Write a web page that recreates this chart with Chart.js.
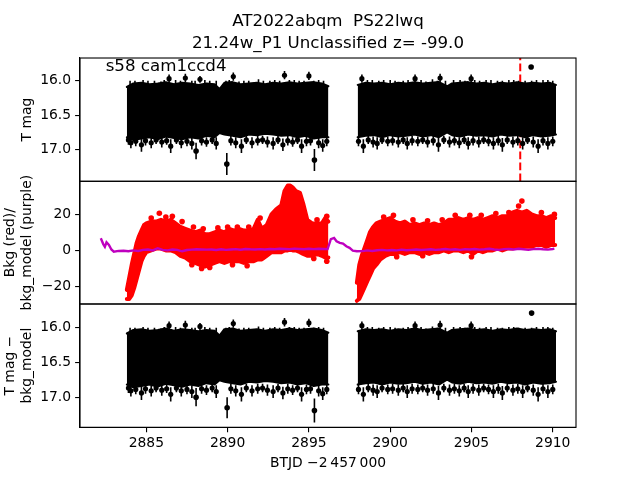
<!DOCTYPE html>
<html><head><meta charset="utf-8">
<script src="https://cdn.jsdelivr.net/npm/chart.js@4/dist/chart.umd.min.js"></script>
<style>
html,body{margin:0;padding:0;background:#fff;width:640px;height:480px;overflow:hidden}
canvas{position:absolute;left:0;top:0}
</style></head><body>
<canvas id="c1" width="640" height="480"></canvas>
<canvas id="c2" width="640" height="480"></canvas>
<canvas id="c3" width="640" height="480"></canvas>
<script>
// ---------- data ----------
const xTicks = [2885, 2890, 2895, 2900, 2905, 2910];
const magTicks = [16.0, 16.5, 17.0];
const bkgTicks = [-20, 0, 20];
const markTime = 2908.0;
const titleLines = ['AT2022abqm  PS22lwq', '21.24w_P1 Unclassified z= -99.0'];
const sectorLabel = 's58 cam1ccd4';

// dense light-curve band (envelope of the black error-bar cloud)
const bandTime1 = [2883.8, 2884.2, 2884.7, 2885.2, 2885.7, 2886.2, 2886.7, 2887.2, 2887.7, 2888.2, 2888.7, 2889.2, 2889.5, 2889.8, 2890.3, 2890.8, 2891.3, 2891.8, 2892.3, 2892.8, 2893.3, 2893.8, 2894.3, 2894.8, 2895.3, 2895.8, 2896.2];
const bandTime2 = [2898.0, 2898.5, 2899.0, 2899.5, 2900.0, 2900.5, 2901.0, 2901.5, 2902.0, 2902.5, 2903.0, 2903.5, 2903.8, 2904.3, 2904.8, 2905.3, 2905.8, 2906.3, 2906.8, 2907.3, 2907.8, 2908.3, 2908.8, 2909.3, 2909.8, 2910.2];
const magBright1 = [16.09, 16.04, 16.03, 16.05, 16.04, 16.02, 16.05, 16.03, 16.04, 16.06, 16.04, 16.05, 16.12, 16.03, 16.02, 16.05, 16.04, 16.03, 16.05, 16.03, 16.04, 16.02, 16.04, 16.03, 16.02, 16.04, 16.08];
const magFaint1  = [16.82, 16.86, 16.84, 16.82, 16.85, 16.81, 16.83, 16.85, 16.82, 16.84, 16.80, 16.82, 16.76, 16.78, 16.80, 16.82, 16.78, 16.79, 16.77, 16.78, 16.80, 16.79, 16.82, 16.80, 16.84, 16.82, 16.82];
const magBright2 = [16.06, 16.03, 16.04, 16.03, 16.05, 16.03, 16.04, 16.02, 16.04, 16.03, 16.02, 16.08, 16.04, 16.03, 16.02, 16.04, 16.03, 16.05, 16.03, 16.04, 16.02, 16.04, 16.03, 16.04, 16.03, 16.06];
const magFaint2  = [16.82, 16.80, 16.79, 16.82, 16.79, 16.81, 16.80, 16.78, 16.81, 16.79, 16.82, 16.75, 16.79, 16.81, 16.78, 16.80, 16.79, 16.81, 16.78, 16.80, 16.79, 16.82, 16.79, 16.81, 16.80, 16.78];
const corBright1 = [16.08, 16.03, 16.02, 16.04, 16.03, 16.01, 16.04, 16.02, 16.03, 16.05, 16.03, 16.04, 16.11, 16.02, 16.01, 16.04, 16.03, 16.02, 16.04, 16.02, 16.03, 16.01, 16.03, 16.02, 16.01, 16.03, 16.07];
const corFaint1  = [16.81, 16.85, 16.83, 16.81, 16.84, 16.80, 16.82, 16.84, 16.81, 16.83, 16.79, 16.81, 16.75, 16.77, 16.79, 16.81, 16.77, 16.78, 16.76, 16.77, 16.79, 16.78, 16.81, 16.79, 16.83, 16.81, 16.81];
const corBright2 = [16.05, 16.02, 16.03, 16.02, 16.04, 16.02, 16.03, 16.01, 16.03, 16.02, 16.01, 16.07, 16.03, 16.02, 16.01, 16.03, 16.02, 16.04, 16.02, 16.03, 16.01, 16.03, 16.02, 16.03, 16.02, 16.05];
const corFaint2  = [16.81, 16.79, 16.78, 16.81, 16.78, 16.80, 16.79, 16.77, 16.80, 16.78, 16.81, 16.74, 16.78, 16.80, 16.77, 16.79, 16.78, 16.80, 16.77, 16.79, 16.78, 16.81, 16.78, 16.80, 16.79, 16.77];

// points (with error bars) sticking out of the band edges (same in both mag panels)
const edgeTime = [2883.90, 2884.05, 2884.35, 2884.70, 2884.95, 2885.30, 2885.60, 2885.95, 2886.25, 2886.50, 2886.85, 2887.15, 2887.50, 2887.80, 2888.40, 2888.70, 2889.05, 2889.30, 2890.20, 2890.50, 2890.85, 2891.15, 2891.50, 2891.85, 2892.15, 2892.45, 2892.80, 2893.10, 2893.40, 2893.70, 2894.00, 2894.30, 2894.55, 2894.85, 2895.10, 2895.60, 2895.85, 2896.10,
  2898.05, 2898.35, 2898.65, 2898.95, 2899.20, 2899.50, 2899.85, 2900.15, 2900.50, 2900.80, 2901.05, 2901.35, 2901.70, 2902.00, 2902.30, 2902.65, 2902.97, 2903.30, 2903.65, 2903.95, 2904.25, 2904.55, 2904.80, 2905.10, 2905.45, 2905.75, 2906.05, 2906.35, 2906.65, 2906.90, 2907.20, 2907.55, 2907.85, 2908.15, 2908.45, 2908.80, 2909.10, 2909.40, 2909.70, 2910.00,
  2886.40, 2887.40, 2888.30, 2890.35, 2893.50, 2895.00, 2898.26, 2901.53, 2903.07, 2904.98];
const edgeVal = [16.86, 16.90, 16.88, 16.93, 16.87, 16.90, 16.86, 16.89, 16.87, 16.95, 16.86, 16.90, 16.88, 16.91, 16.87, 16.89, 16.86, 16.91, 16.87, 16.90, 16.95, 16.86, 16.90, 16.87, 16.86, 16.89, 16.91, 16.86, 16.93, 16.87, 16.89, 16.86, 16.95, 16.88, 16.87, 16.90, 16.94, 16.88,
  16.88, 16.95, 16.86, 16.89, 16.91, 16.86, 16.88, 16.87, 16.89, 16.86, 16.91, 16.87, 16.88, 16.86, 16.89, 16.87, 16.93, 16.86, 16.89, 16.87, 16.90, 16.86, 16.91, 16.87, 16.89, 16.86, 16.88, 16.91, 16.87, 16.93, 16.86, 16.89, 16.87, 16.91, 16.86, 16.89, 16.95, 16.87, 16.91, 16.88,
  15.97, 15.96, 15.98, 15.94, 15.92, 15.93, 15.97, 15.97, 15.96, 15.97];
const edgeErr = [0.07, 0.08, 0.07, 0.10, 0.07, 0.08, 0.06, 0.08, 0.06, 0.10, 0.06, 0.08, 0.07, 0.09, 0.07, 0.07, 0.06, 0.09, 0.07, 0.08, 0.10, 0.06, 0.08, 0.07, 0.06, 0.08, 0.09, 0.06, 0.09, 0.07, 0.07, 0.06, 0.10, 0.07, 0.07, 0.08, 0.09, 0.07,
  0.07, 0.10, 0.06, 0.08, 0.09, 0.06, 0.07, 0.07, 0.08, 0.06, 0.09, 0.07, 0.07, 0.06, 0.08, 0.07, 0.10, 0.06, 0.08, 0.07, 0.08, 0.06, 0.09, 0.07, 0.08, 0.06, 0.07, 0.09, 0.07, 0.10, 0.06, 0.08, 0.07, 0.09, 0.06, 0.08, 0.10, 0.07, 0.09, 0.07,
  0.06, 0.06, 0.05, 0.06, 0.06, 0.06, 0.06, 0.06, 0.06, 0.06];
// error-bar streaks on the bright edge whose markers sit inside the band
const streakTime = [2884.00, 2884.30, 2884.80, 2885.10, 2885.50, 2885.90, 2886.10, 2886.80, 2887.10, 2887.80, 2888.00, 2888.60, 2888.90, 2889.30, 2889.90, 2890.10, 2890.70, 2891.00, 2891.30, 2891.90, 2892.20, 2892.60, 2892.90, 2893.20, 2893.80, 2894.10, 2894.40, 2894.70, 2895.30, 2895.60, 2895.90,
  2898.60, 2898.90, 2899.30, 2899.60, 2900.00, 2900.30, 2900.80, 2901.10, 2901.90, 2902.20, 2902.60, 2902.90, 2903.40, 2903.90, 2904.30, 2904.60, 2905.20, 2905.50, 2905.90, 2906.20, 2906.60, 2906.90, 2907.30, 2907.60, 2907.90, 2908.30, 2908.70, 2909.00, 2909.40, 2909.70, 2910.00];
const streakVal = [16.06, 16.05, 16.06, 16.05, 16.06, 16.05, 16.05, 16.06, 16.05, 16.06, 16.05, 16.06, 16.05, 16.06, 16.05, 16.06, 16.05, 16.06, 16.05, 16.05, 16.06, 16.05, 16.06, 16.05, 16.05, 16.06, 16.05, 16.06, 16.05, 16.06, 16.05,
  16.05, 16.06, 16.05, 16.06, 16.05, 16.06, 16.05, 16.06, 16.05, 16.06, 16.05, 16.05, 16.06, 16.05, 16.06, 16.05, 16.06, 16.05, 16.05, 16.06, 16.05, 16.06, 16.05, 16.06, 16.05, 16.06, 16.05, 16.06, 16.05, 16.06, 16.05];
const streakErr = [0.06, 0.05, 0.07, 0.05, 0.06, 0.04, 0.06, 0.07, 0.05, 0.06, 0.05, 0.07, 0.05, 0.06, 0.05, 0.07, 0.04, 0.06, 0.05, 0.07, 0.06, 0.05, 0.07, 0.05, 0.06, 0.07, 0.05, 0.06, 0.05, 0.07, 0.05,
  0.06, 0.07, 0.05, 0.07, 0.06, 0.06, 0.05, 0.07, 0.06, 0.05, 0.07, 0.05, 0.06, 0.06, 0.07, 0.05, 0.07, 0.05, 0.06, 0.07, 0.05, 0.06, 0.06, 0.07, 0.05, 0.06, 0.05, 0.07, 0.06, 0.07, 0.05];

// isolated outliers
const magOutTime = [2888.06, 2889.95, 2895.34, 2908.67];
const magOutVal  = [17.02, 17.21, 17.15, 15.80];
const magOutErr  = [0.12, 0.16, 0.16, 0.02];
const corOutTime = [2888.06, 2889.97, 2895.34, 2908.70];
const corOutVal  = [16.99, 17.14, 17.18, 15.79];
const corOutErr  = [0.13, 0.15, 0.17, 0.02];

// background (red) envelope
const bkgTime1 = [2883.80, 2883.95, 2884.10, 2884.25, 2884.40, 2884.55, 2884.70, 2884.85, 2885.00, 2885.30, 2885.60, 2885.90, 2886.20, 2886.50, 2886.80, 2887.10, 2887.40, 2887.70, 2888.00, 2888.30, 2888.60, 2888.90, 2889.20, 2889.50, 2889.80, 2890.10, 2890.40, 2890.70, 2891.00, 2891.30, 2891.60, 2891.85, 2892.10, 2892.40, 2892.70, 2893.00, 2893.30, 2893.50, 2893.70, 2893.85, 2894.00, 2894.20, 2894.45, 2894.65, 2894.90, 2895.20, 2895.50, 2895.80, 2896.00, 2896.20];
const bkgLow1  = [-27, -27, -25, -21, -16, -11, -6, -3, -1, 0, 1, 1, 0, 0, -1, -3, -4, -6, -7, -8, -9, -8, -7, -6, -7, -6, -6, -6, -7, -6, -6, -5, -5, -3, -1, -1, -1, 0, 0, 1, 0, 0, -1, -2, -3, -3, -2, -3, -4, -4];
const bkgHigh1 = [-22, -15, -8, -2, 4, 8, 11, 14, 15, 16, 16, 17, 16, 17, 15, 13, 12, 11, 10, 11, 9, 9, 10, 11, 10, 12, 11, 12, 11, 11, 12, 17, 12, 14, 20, 23, 25, 33, 36, 36, 35, 33, 32, 26, 17, 15, 15, 15, 18, 16];
const bkgTime2 = [2897.95, 2898.10, 2898.25, 2898.45, 2898.60, 2898.75, 2898.95, 2899.15, 2899.40, 2899.70, 2900.00, 2900.30, 2900.60, 2900.90, 2901.20, 2901.50, 2901.80, 2902.10, 2902.40, 2902.70, 2903.00, 2903.30, 2903.60, 2903.90, 2904.20, 2904.50, 2904.80, 2905.10, 2905.40, 2905.70, 2906.00, 2906.30, 2906.60, 2906.90, 2907.20, 2907.50, 2907.80, 2908.10, 2908.40, 2908.70, 2909.00, 2909.30, 2909.60, 2909.90, 2910.15];
const bkgLow2  = [-28, -27, -24, -20, -17, -14, -10, -8, -5, -3, -2, -2, -1, -2, -1, -1, -2, -1, -2, -1, -1, 0, -1, 0, 0, -1, 0, -2, 0, -1, 0, 0, 1, 0, 1, 1, 2, 2, 2, 2, 3, 3, 2, 3, 3];
const bkgHigh2 = [-18, -8, -3, 2, 6, 10, 13, 15, 16, 17, 18, 16, 15, 16, 14, 15, 14, 15, 14, 15, 14, 15, 17, 17, 18, 17, 18, 17, 18, 17, 18, 19, 18, 19, 19, 21, 22, 21, 22, 20, 19, 19, 18, 19, 18];
// separate red points along the cloud edges
const bkgPtTime = [2885.8, 2907.9, 2908.1, 2885.3, 2886.2, 2886.6, 2887.2, 2887.9, 2888.5, 2889.4, 2890.0, 2890.6, 2891.3, 2892.0, 2895.5, 2896.1, 2899.6, 2900.2, 2901.4, 2902.3, 2903.2, 2904.0, 2904.9, 2905.6, 2906.5, 2907.3, 2909.3, 2910.1,
  2887.8, 2888.4, 2888.9, 2890.3, 2891.2, 2895.3, 2896.1, 2900.4, 2902.0, 2905.0];
const bkgPtVal  = [20.6, 24.7, 27.4, 18, 18.5, 19, 16, 13, 12, 12.5, 13, 13, 13, 18, 17, 19, 18.5, 19.5, 17, 16.5, 17, 19.5, 19.5, 19.5, 20.5, 21, 21, 20,
  -8, -10, -9.5, -8, -8.5, -4.5, -6, -3.5, -3, -3.5];

// background model (purple)
const modelTime = [2882.20, 2882.35, 2882.45, 2882.55, 2882.70, 2882.85, 2883.00, 2883.30, 2883.60, 2883.90, 2884.20, 2884.50, 2884.80, 2885.10, 2885.40, 2885.70, 2886.00, 2886.30, 2886.60, 2886.90, 2887.20, 2887.50, 2887.80, 2888.10, 2888.40, 2888.70, 2889.00, 2889.30, 2889.60, 2889.90, 2890.20, 2890.50, 2890.80, 2891.10, 2891.40, 2891.70, 2892.00, 2892.30, 2892.60, 2892.90, 2893.20, 2893.50, 2893.80, 2894.10, 2894.40, 2894.70, 2895.00, 2895.30, 2895.60, 2895.90, 2896.15, 2896.35, 2896.55, 2896.70, 2896.90, 2897.10, 2897.30, 2897.50, 2897.70, 2897.95, 2898.30, 2898.60, 2898.90, 2899.20, 2899.50, 2899.80, 2900.10, 2900.40, 2900.70, 2901.00, 2901.30, 2901.60, 2901.90, 2902.20, 2902.50, 2902.80, 2903.10, 2903.40, 2903.70, 2904.00, 2904.30, 2904.60, 2904.90, 2905.20, 2905.50, 2905.80, 2906.10, 2906.40, 2906.70, 2907.00, 2907.30, 2907.60, 2907.90, 2908.20, 2908.50, 2908.80, 2909.10, 2909.40, 2909.70, 2910.00, 2910.10];
const modelVal  = [6.7, 3.5, 2.0, 4.5, 3.0, 0.5, -0.7, -0.3, -0.2, -0.5, 0.0, -0.3, 0.3, 0.5, 0.0, 1.2, 0.3, 0.0, 0.5, 0.3, -0.5, 0.2, 0.4, 0.6, 0.5, 0.4, 0.5, 0.2, 0.6, 0.3, 0.5, 0.7, 0.4, 0.8, 0.6, 0.5, 0.7, 0.5, 0.8, 0.6, 0.9, 0.8, 0.6, 1.0, 0.8, 0.6, 0.9, 0.7, 0.9, 0.8, 0.7, 6.2, 6.9, 5.1, 4.2, 3.8, 2.3, 1.4, -0.1, -0.5, -0.4, 0.0, -0.3, 0.1, 0.3, 0.0, 0.2, 0.0, 0.4, 0.1, 0.3, 0.5, 0.2, 0.4, 0.6, 0.3, 0.5, 0.8, 0.4, 0.6, 0.3, 0.7, 0.5, 0.8, 0.4, 0.6, 0.9, 0.5, 0.3, 0.7, 0.8, 0.5, 0.9, 0.6, 0.3, 0.7, 0.9, 0.6, 0.4, 0.8, 1.0];

// ---------- chart helpers ----------
const FONT = 'DejaVu Sans';
const tickFont = {family: FONT, size: 13.89};
const labelFont = {family: FONT, size: 13.89, lineHeight: 1.2};
const XMIN = 2880.92, XMAX = 2911.43;

const pts = (t, v) => t.map((x, i) => ({x, y: v[i]}));

function band(t, hi, lo, color, bw) {
  const common = {type: 'line', borderColor: color, backgroundColor: color, borderWidth: bw, pointRadius: 0,
    borderJoinStyle: 'round', borderCapStyle: 'round', tension: 0, order: 3};
  return [Object.assign({data: pts(t, hi), fill: false}, common),
          Object.assign({data: pts(t, lo), fill: '-1'}, common)];
}
function dots(t, v, color, r) {
  return {type: 'line', data: pts(t, v), showLine: false, pointRadius: r, pointBackgroundColor: color, pointBorderWidth: 0, order: 1};
}

function yScale(ticks, min, max, reverse, title, padTop, fmt) {
  return {
    type: 'linear', position: 'left', min, max, reverse,
    afterBuildTicks: s => { s.ticks = ticks.map(v => ({value: v})); },
    afterFit: s => { s.width = 80; },
    ticks: {font: tickFont, color: '#000', padding: 4, autoSkip: false, callback: fmt},
    grid: {display: true, drawOnChartArea: false, drawTicks: true, tickLength: 4.9, color: '#000', lineWidth: 1.1},
    border: {display: true, color: '#000', width: 1.1},
    title: {display: true, text: title, font: labelFont, color: '#000', padding: {top: padTop, bottom: 0}}
  };
}
const hiddenX = {type: 'linear', min: XMIN, max: XMAX, display: false};
const magFmt = v => v.toFixed(1);
const bkgFmt = v => (v < 0 ? '\u2212' + Math.abs(v) : String(v));

const framePlugin = {id: 'frame', afterDatasetsDraw(c) {
  const a = c.chartArea, ctx = c.ctx;
  ctx.save(); ctx.strokeStyle = '#000'; ctx.lineWidth = 1.1;
  ctx.strokeRect(a.left, a.top, a.right - a.left, a.bottom - a.top); ctx.restore();
}};
function errPlugin(sets) {
  return {id: 'errbars', afterDatasetsDraw(c) {
    const xs = c.scales.x, ys = c.scales.y, ctx = c.ctx, a = c.chartArea;
    ctx.save(); ctx.beginPath(); ctx.rect(a.left, a.top, a.right - a.left, a.bottom - a.top); ctx.clip();
    ctx.strokeStyle = '#000'; ctx.lineWidth = 1.6;
    for (const [t, m, e] of sets) {
      for (let i = 0; i < t.length; i++) {
        const px = xs.getPixelForValue(t[i]);
        ctx.beginPath(); ctx.moveTo(px, ys.getPixelForValue(m[i] - e[i])); ctx.lineTo(px, ys.getPixelForValue(m[i] + e[i])); ctx.stroke();
      }
    }
    ctx.restore();
  }};
}
const markPlugin = {id: 'mark', beforeDatasetsDraw(c) {
  const x = c.scales.x.getPixelForValue(markTime), a = c.chartArea, ctx = c.ctx;
  ctx.save(); ctx.strokeStyle = '#ff0000'; ctx.lineWidth = 2; ctx.setLineDash([7.7, 3.3]);
  ctx.beginPath(); ctx.moveTo(x, a.bottom); ctx.lineTo(x, a.top); ctx.stroke(); ctx.restore();
}};
const sectorPlugin = {id: 'sector', afterDraw(c) {
  const ctx = c.ctx;
  ctx.save(); ctx.fillStyle = '#000'; ctx.font = '16.67px "DejaVu Sans"'; ctx.textBaseline = 'alphabetic';
  ctx.fillText(sectorLabel, c.scales.x.getPixelForValue(2882.5), 70.5); ctx.restore();
}};

const common = {responsive: false, animation: false, events: [], devicePixelRatio: 1};
const noLegend = {legend: {display: false}, tooltip: {enabled: false}};

// ---------- top panel ----------
new Chart(document.getElementById('c1'), {
  type: 'line',
  data: {datasets: [
    ...band(bandTime1, magBright1, magFaint1, '#000', 2),
    ...band(bandTime2, magBright2, magFaint2, '#000', 2),
    dots(edgeTime, edgeVal, '#000', 2.6),
    dots(magOutTime, magOutVal, '#000', 2.8)
  ]},
  options: Object.assign({}, common, {
    layout: {padding: {left: 0, right: 64, top: 0, bottom: 298.7}},
    scales: {x: hiddenX, y: yScale(magTicks, 15.67, 17.46, true, 'T mag', 18.7, magFmt)},
    plugins: Object.assign({}, noLegend, {title: {display: true, text: titleLines, fullSize: false, color: '#000',
      font: {family: FONT, size: 16.67, weight: 'normal', lineHeight: 1.32}, padding: {top: 11, bottom: 3}}})
  }),
  plugins: [markPlugin, errPlugin([[streakTime, streakVal, streakErr], [edgeTime, edgeVal, edgeErr], [magOutTime, magOutVal, magOutErr]]), framePlugin, sectorPlugin]
});

// ---------- middle panel ----------
new Chart(document.getElementById('c2'), {
  type: 'line',
  data: {datasets: [
    {type: 'line', data: pts(modelTime, modelVal), borderColor: '#bf00bf', borderWidth: 2.4, pointRadius: 0, fill: false, tension: 0, order: 0},
    ...band(bkgTime1, bkgHigh1, bkgLow1, '#ff0000', 4),
    ...band(bkgTime2, bkgHigh2, bkgLow2, '#ff0000', 4),
    dots(bkgPtTime, bkgPtVal, '#ff0000', 2.8)
  ]},
  options: Object.assign({}, common, {
    layout: {padding: {left: 0, right: 64, top: 181.3, bottom: 176}},
    scales: {x: hiddenX, y: yScale(bkgTicks, -29.8, 38.4, false, ['Bkg (red)/', 'bkg_model (purple)'], 2.5, bkgFmt)},
    plugins: noLegend
  }),
  plugins: [framePlugin]
});

// ---------- bottom panel ----------
new Chart(document.getElementById('c3'), {
  type: 'line',
  data: {datasets: [
    ...band(bandTime1, corBright1, corFaint1, '#000', 2),
    ...band(bandTime2, corBright2, corFaint2, '#000', 2),
    dots(edgeTime, edgeVal, '#000', 2.6),
    dots(corOutTime, corOutVal, '#000', 2.8)
  ]},
  options: Object.assign({}, common, {
    layout: {padding: {left: 0, right: 64, top: 304, bottom: 0}},
    scales: {
      x: {type: 'linear', position: 'bottom', min: XMIN, max: XMAX,
        afterBuildTicks: s => { s.ticks = xTicks.map(v => ({value: v})); },
        afterFit: s => { s.height = 480 - 427.3; },
        ticks: {font: tickFont, color: '#000', padding: 3, autoSkip: false, maxRotation: 0, callback: v => String(v)},
        grid: {display: true, drawOnChartArea: false, drawTicks: true, tickLength: 4.9, color: '#000', lineWidth: 1.1},
        border: {display: true, color: '#000', width: 1.1},
        title: {display: true, text: 'BTJD \u22122\u2009457\u2009000', font: labelFont, color: '#000', padding: {top: 0, bottom: 8.7}}
      },
      y: yScale(magTicks, 15.66, 17.42, true, ['T mag \u2212', 'bkg_model'], 2.5, magFmt)
    },
    plugins: noLegend
  }),
  plugins: [errPlugin([[streakTime, streakVal, streakErr], [edgeTime, edgeVal, edgeErr], [corOutTime, corOutVal, corOutErr]]), framePlugin]
});
</script>
</body></html>
